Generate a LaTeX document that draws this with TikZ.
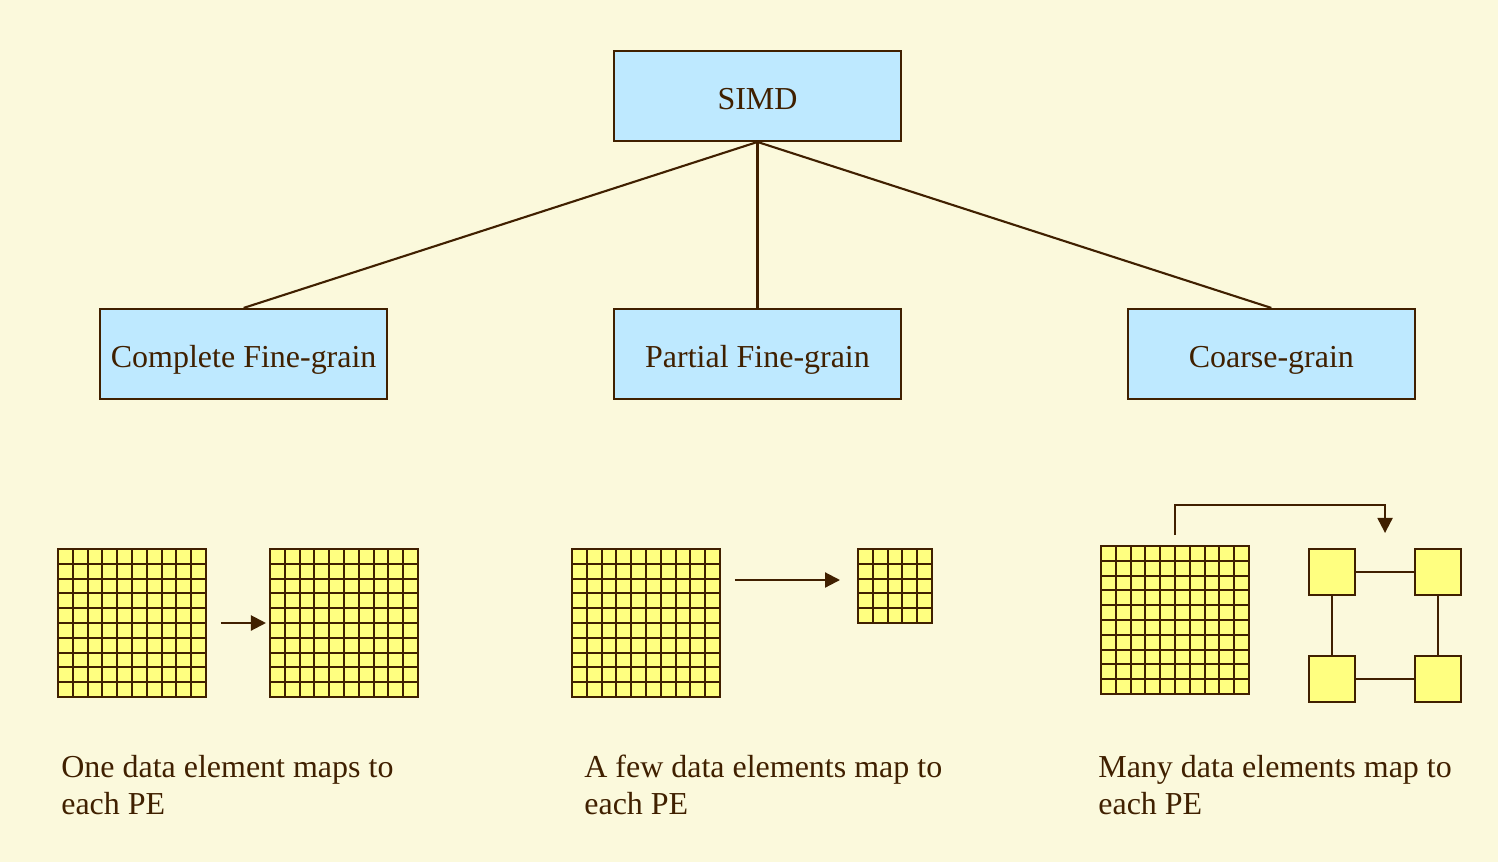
\documentclass[tikz,border=0pt]{standalone}
\usepackage{fontspec}
\setmainfont{Liberation Serif}
\usetikzlibrary{arrows.meta, positioning, calc}

\definecolor{bgcream}{RGB}{251,249,220}
\definecolor{ink}{RGB}{64,32,0}
\definecolor{boxblue}{RGB}{190,233,255}
\definecolor{peyellow}{RGB}{255,255,128}

% cell lines inside a data grid node: #1 node name, #2 cells per side
\newcommand{\cellgrid}[2]{%
  \foreach \k [evaluate=\k as \f using \k/#2] in {1,...,#2} {
    \draw[cellline] ($(#1.south west)!\f!(#1.north west)$) -- ($(#1.south east)!\f!(#1.north east)$);
    \draw[cellline] ($(#1.south west)!\f!(#1.south east)$) -- ($(#1.north west)!\f!(#1.north east)$);
  }}

\begin{document}
\begin{tikzpicture}[
    x=0.02cm, y=-0.02cm,
    every node/.style={font=\fontsize{18.2}{21}\selectfont, text=ink},
    level/.style={rectangle, draw=ink, fill=boxblue, line width=1.1pt, minimum width=5.74cm, minimum height=1.8cm, text height=0.7cm, text depth=0.16cm},
    datagrid/.style={rectangle, draw=ink, fill=peyellow, line width=1.2pt, minimum size=#1, inner sep=0pt, outer sep=0pt},
    datagrid/.default=2.96cm,
    pe/.style={rectangle, draw=ink, fill=peyellow, line width=1.2pt, minimum size=0.92cm, inner sep=0pt},
    cellline/.style={draw=ink, line width=1.1pt},
    link/.style={draw=ink, line width=1.2pt},
    arrow/.style={-{Triangle[length=0.3cm, width=0.3cm]}, draw=ink, line width=1.2pt},
    caption/.style={anchor=base west, align=left, inner sep=0pt}
]
\fill[bgcream] (0,0) rectangle (1498,862);
\useasboundingbox (0,0) rectangle (1498,862);

% Tree
\node[level] (simd) at (757.5,96) {SIMD};
\node[level, below=3.32cm of simd] (partial) {Partial Fine-grain};
\node[level, left=4.5cm of partial] (complete) {Complete Fine-grain};
\node[level, right=4.5cm of partial] (coarse) {Coarse-grain};

\draw[link] (simd.south) -- (complete.north);
\draw[link] (simd.south) -- (partial.north);
\draw[link] (simd.south) -- (coarse.north);

% Data grids
\node[datagrid] (one) at (132,623) {};
\node[datagrid, right=1.28cm of one] (onepe) {};
\node[datagrid] (few) at (646,623) {};
\node[datagrid=1.48cm] (fewpe) at (895,586) {};
\node[datagrid] (many) at (1175,620) {};
\cellgrid{one}{10}
\cellgrid{onepe}{10}
\cellgrid{few}{10}
\cellgrid{fewpe}{5}
\cellgrid{many}{10}

% PE ring
\node[pe] (pea) at (1332,572) {};
\node[pe, right=1.16cm of pea] (peb) {};
\node[pe, below=1.18cm of pea] (pec) {};
\node[pe, right=1.16cm of pec] (ped) {};
\draw[link] (pea) -- (peb);
\draw[link] (pea) -- (pec);
\draw[link] (peb) -- (ped);
\draw[link] (pec) -- (ped);

% Mappings
\draw[arrow, shorten <=0.3cm, shorten >=0.08cm] (one) -- (onepe);
\coordinate (fewtip) at ([yshift=0.12cm]fewpe.west);
\draw[arrow, shorten <=0.3cm, shorten >=0.36cm] (few.east |- fewtip) -- (fewtip);
\coordinate (ringtop) at ($(pea.north)!0.5!(peb.north)$);
\draw[arrow, shorten >=0.3cm] ([yshift=0.22cm]many.north) -- ++(0,0.6cm) -| (ringtop);

% Captions
\node[caption] (capone) at (61,814) {One data element maps to\\each PE};
\node[caption] (capfew) at (584,814) {A few data elements map to\\each PE};
\node[caption] (capmany) at (1098,814) {Many data elements map to\\each PE};

\end{tikzpicture}
\end{document}
